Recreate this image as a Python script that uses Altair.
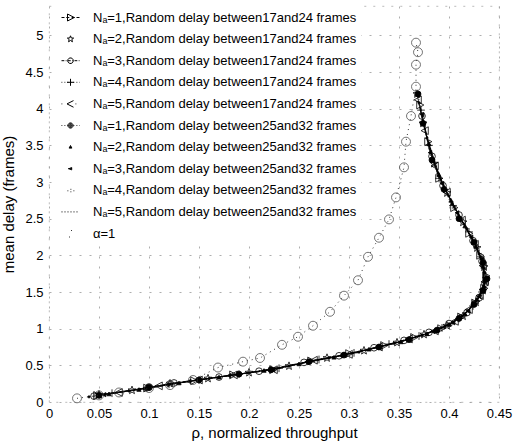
import math
import altair as alt
import pandas as pd

# ---------------- data ----------------
names = [
    "Nₐ=1,Random delay between17and24 frames",
    "Nₐ=2,Random delay between17and24 frames",
    "Nₐ=3,Random delay between17and24 frames",
    "Nₐ=4,Random delay between17and24 frames",
    "Nₐ=5,Random delay between17and24 frames",
    "Nₐ=1,Random delay between25and32 frames",
    "Nₐ=2,Random delay between25and32 frames",
    "Nₐ=3,Random delay between25and32 frames",
    "Nₐ=4,Random delay between25and32 frames",
    "Nₐ=5,Random delay between25and32 frames",
]
alpha_name = "α=1"

x1 = [0.048, 0.098, 0.145, 0.184, 0.224, 0.262, 0.30, 0.335, 0.365, 0.392, 0.412, 0.426, 0.435, 0.437, 0.431, 0.42, 0.405, 0.39, 0.379, 0.371]
y1 = [0.09, 0.19, 0.29, 0.37, 0.44, 0.56, 0.66, 0.77, 0.88, 1.00, 1.16, 1.35, 1.55, 1.72, 2.00, 2.30, 2.65, 3.05, 3.55, 4.05]
x2 = [0.05, 0.083, 0.121, 0.159, 0.20, 0.24, 0.278, 0.315, 0.348, 0.375, 0.398, 0.414, 0.427, 0.434, 0.435, 0.428, 0.414, 0.398, 0.385, 0.374, 0.368]
y2 = [0.10, 0.16, 0.25, 0.32, 0.40, 0.49, 0.60, 0.70, 0.81, 0.92, 1.04, 1.17, 1.36, 1.52, 1.84, 2.10, 2.45, 2.85, 3.25, 3.80, 4.20]
x3 = [0.045, 0.10, 0.125, 0.17, 0.21, 0.255, 0.29, 0.325, 0.355, 0.38, 0.40, 0.418, 0.43, 0.436, 0.433, 0.424, 0.41, 0.394, 0.383, 0.373]
y3 = [0.08, 0.20, 0.26, 0.34, 0.42, 0.54, 0.63, 0.74, 0.84, 0.95, 1.07, 1.22, 1.42, 1.62, 1.92, 2.20, 2.55, 2.95, 3.35, 3.90]
x4 = [0.063, 0.098, 0.12, 0.15, 0.19, 0.23, 0.27, 0.305, 0.34, 0.37, 0.393, 0.41, 0.424, 0.433, 0.437, 0.432, 0.42, 0.404, 0.39, 0.38, 0.372]
y4 = [0.12, 0.19, 0.24, 0.30, 0.38, 0.46, 0.58, 0.67, 0.79, 0.90, 1.01, 1.14, 1.31, 1.50, 1.70, 1.98, 2.32, 2.68, 3.05, 3.50, 3.98]
x5 = [0.07, 0.11, 0.15, 0.185, 0.225, 0.265, 0.30, 0.33, 0.36, 0.386, 0.406, 0.42, 0.431, 0.436, 0.434, 0.426, 0.413, 0.398, 0.386, 0.376, 0.369]
y5 = [0.13, 0.22, 0.30, 0.37, 0.44, 0.57, 0.65, 0.75, 0.86, 0.97, 1.10, 1.26, 1.45, 1.64, 1.86, 2.15, 2.48, 2.86, 3.22, 3.70, 4.12]
x6 = [0.05, 0.10, 0.15, 0.19, 0.222, 0.26, 0.295, 0.33, 0.36, 0.388, 0.41, 0.425, 0.434, 0.438, 0.434, 0.425, 0.41, 0.395, 0.383, 0.374, 0.369]
y6 = [0.09, 0.20, 0.30, 0.38, 0.44, 0.55, 0.64, 0.75, 0.85, 0.98, 1.14, 1.33, 1.52, 1.68, 1.90, 2.18, 2.50, 2.90, 3.30, 3.80, 4.20]
x7 = [0.06, 0.09, 0.13, 0.17, 0.215, 0.25, 0.285, 0.32, 0.352, 0.378, 0.40, 0.416, 0.428, 0.435, 0.434, 0.427, 0.416, 0.402, 0.39, 0.38]
y7 = [0.11, 0.17, 0.26, 0.34, 0.43, 0.52, 0.61, 0.72, 0.82, 0.93, 1.06, 1.20, 1.40, 1.58, 1.85, 2.12, 2.40, 2.75, 3.10, 3.52]
x8 = [0.055, 0.095, 0.14, 0.18, 0.224, 0.258, 0.292, 0.328, 0.358, 0.384, 0.404, 0.419, 0.43, 0.436, 0.433, 0.422, 0.408, 0.393, 0.381, 0.373]
y8 = [0.10, 0.18, 0.28, 0.36, 0.44, 0.55, 0.63, 0.74, 0.85, 0.96, 1.08, 1.24, 1.44, 1.64, 1.95, 2.25, 2.58, 2.98, 3.40, 3.92]
x9 = [0.04, 0.08, 0.12, 0.16, 0.20, 0.24, 0.28, 0.31, 0.345, 0.373, 0.396, 0.413, 0.426, 0.434, 0.436, 0.43, 0.418, 0.403, 0.389, 0.378, 0.37]
y9 = [0.07, 0.15, 0.24, 0.32, 0.40, 0.49, 0.60, 0.68, 0.80, 0.91, 1.03, 1.17, 1.34, 1.52, 1.76, 2.02, 2.36, 2.70, 3.12, 3.60, 4.08]
x10 = [0.05, 0.09, 0.13, 0.175, 0.22, 0.26, 0.295, 0.33, 0.362, 0.386, 0.406, 0.42, 0.43, 0.436, 0.435, 0.428, 0.415, 0.40, 0.387, 0.377, 0.37]
y10 = [0.09, 0.18, 0.26, 0.35, 0.43, 0.55, 0.64, 0.75, 0.87, 0.97, 1.10, 1.25, 1.43, 1.62, 1.83, 2.08, 2.42, 2.80, 3.20, 3.68, 4.10]

xa = [0.028, 0.05, 0.07, 0.10, 0.121, 0.144, 0.169, 0.194, 0.211, 0.233, 0.249, 0.264, 0.281, 0.295, 0.309, 0.319, 0.33, 0.34, 0.347, 0.355, 0.357, 0.362, 0.367, 0.367, 0.369, 0.367]
ya = [0.05, 0.09, 0.13, 0.19, 0.23, 0.30, 0.47, 0.55, 0.60, 0.78, 0.89, 1.04, 1.23, 1.45, 1.66, 1.98, 2.24, 2.49, 2.79, 3.20, 3.55, 3.90, 4.30, 4.60, 4.77, 4.90]

x_ticks = [0, 0.05, 0.1, 0.15, 0.2, 0.25, 0.3, 0.35, 0.4, 0.45]
y_ticks = [0, 0.5, 1, 1.5, 2, 2.5, 3, 3.5, 4, 4.5, 5]

series_x = [x1, x2, x3, x4, x5, x6, x7, x8, x9, x10]
series_y = [y1, y2, y3, y4, y5, y6, y7, y8, y9, y10]

# ---------------- shapes ----------------
def poly(pts):
    return "M" + "L".join(f"{a:.3f},{b:.3f}" for a, b in pts) + "Z"

def circ(r, cx=0.0, cy=0.0, n=14):
    return poly([(cx + r * math.cos(2 * math.pi * k / n), cy + r * math.sin(2 * math.pi * k / n)) for k in range(n)])

def star(r_out, r_in):
    pts = []
    for k in range(10):
        ang = -math.pi / 2 + k * math.pi / 5
        r = r_out if k % 2 == 0 else r_in
        pts.append((r * math.cos(ang), r * math.sin(ang)))
    return poly(pts)

def segs(pairs):
    return "".join(f"M{a:.2f},0H{b:.2f}" for a, b in pairs)

DASHED = [(-0.9, -0.6), (-0.42, -0.12), (0.12, 0.42), (0.6, 0.9)]
DASHDOT = [(-0.9, -0.62), (-0.48, -0.4), (-0.26, 0.02), (0.18, 0.26), (0.4, 0.68), (0.82, 0.9)]
DOTTED = [(-0.9, -0.82), (-0.6, -0.52), (-0.3, -0.22), (0.0, 0.08), (0.3, 0.38), (0.6, 0.68), (0.86, 0.9)]

# plot markers: (shape, size, filled)
plot_markers = [
    ("M-0.85,-1L1,0L-0.85,1Z", 60, False),
    (star(1, 0.42), 70, False),
    ("circle", 45, False),
    ("M-1,0H1M0,-1V1", 60, False),
    ("M0.85,-1L-1,0L0.85,1Z", 60, False),
    ("circle", 35, True),
    ("triangle-up", 18, True),
    ("triangle-left", 18, True),
    ("circle", 5, True),
    (None, 0, True),
]
line_dashes = [[4, 3], None, [5, 2, 1, 2], [1, 3], [1, 2], [1, 2], None, [6, 2], [1, 3], [1, 3]]

# legend symbols (line + marker, unit = 10 px)
legend_paths = [
    segs(DASHED) + "M-0.3,-0.35L0.38,0L-0.3,0.35Z",
    star(0.33, 0.14),
    segs(DASHDOT) + circ(0.28),
    segs(DOTTED) + "M-0.35,0H0.35M0,-0.35V0.35",
    segs([(-0.9, -0.82), (0.5, 0.58)]) + "M0.3,-0.33L-0.35,0L0.3,0.33",
    segs(DOTTED) + circ(0.26) + circ(0.17) + circ(0.08),
    "M0,-0.16L0.14,0.1L-0.14,0.1Z" + "M0,-0.06L0.05,0.04L-0.05,0.04Z",
    "M0.12,-0.12L-0.16,0L0.12,0.12Z" + "M-0.25,0H0.15",
    "M-0.3,0.05H-0.22M0.0,-0.1H0.08M0.0,0.15H0.08M0.3,0.05H0.38",
    segs([(-0.9, -0.8), (-0.6, -0.5), (-0.3, -0.2), (0.0, 0.1), (0.3, 0.4), (0.6, 0.7)]),
    "M0.05,-0.3H0.13M-0.15,0.35H-0.07",
]
legend_names = names + [alpha_name]

# ---------------- chart ----------------
X = alt.X("x:Q", scale=alt.Scale(domain=[0, 0.45], nice=False, zero=False),
          axis=alt.Axis(values=x_ticks, format="~g", title="ρ, normalized throughput",
                        labelPadding=5, titlePadding=5, labelFlush=False))
Y = alt.Y("y:Q", scale=alt.Scale(domain=[0, 5.4], nice=False),
          axis=alt.Axis(values=y_ticks, format="~g", title="mean delay (frames)",
                        labelPadding=6, titlePadding=8, labelFlush=False))

layers = []
for i in range(10):
    df = pd.DataFrame({"x": series_x[i], "y": series_y[i], "i": list(range(len(series_x[i])))})
    lkw = dict(stroke="black", strokeWidth=0.8)
    if line_dashes[i] is not None:
        lkw["strokeDash"] = line_dashes[i]
    layers.append(alt.Chart(df).mark_line(**lkw).encode(x=X, y=Y, order="i:Q"))
    shape, size, filled = plot_markers[i]
    if shape is not None:
        pkw = dict(shape=shape, size=size, filled=filled, stroke="black", strokeWidth=0.8, opacity=1)
        if filled:
            pkw["fill"] = "black"
        layers.append(alt.Chart(df).mark_point(**pkw).encode(x=X, y=Y))

dfa = pd.DataFrame({"x": xa, "y": ya, "i": list(range(len(xa)))})
layers.append(alt.Chart(dfa).mark_line(stroke="#222", strokeWidth=0.9, strokeDash=[1, 4]).encode(x=X, y=Y, order="i:Q"))
layers.append(alt.Chart(dfa).mark_point(shape="circle", size=80, filled=False, stroke="#333",
                                         strokeWidth=0.8, opacity=0.85).encode(x=X, y=Y))

# legend layer (invisible marks, supplies the legend)
dfl = pd.DataFrame({"series": legend_names, "x": [0.2] * len(legend_names), "y": [1.0] * len(legend_names)})
layers.append(
    alt.Chart(dfl).mark_point(opacity=0, size=400, stroke="black", filled=False).encode(
        x=X, y=Y,
        shape=alt.Shape("series:N", scale=alt.Scale(domain=legend_names, range=legend_paths),
                        legend=alt.Legend(
                            orient="none", legendX=7, legendY=-3, title=None,
                            labelFont="Liberation Sans", labelFontSize=13, labelColor="black",
                            labelLimit=400, labelOffset=12,
                            symbolSize=400, symbolStrokeColor="black", symbolStrokeWidth=1,
                            symbolFillColor="transparent", symbolOpacity=1,
                            rowPadding=3.6, padding=4, fillColor="white",
                        )),
    )
)

chart = alt.layer(*layers).properties(
    width=450, height=396,
    autosize=alt.AutoSizeParams(type="none"),
    padding={"left": 49, "top": 6, "right": 18, "bottom": 42},
).configure_view(
    stroke="#aaa", strokeDash=[2, 7], strokeWidth=0.8
).configure_axis(
    grid=True, gridColor="#999", gridDash=[2, 8], gridWidth=0.8,
    domain=False, ticks=False,
    labelFont="Liberation Sans", labelFontSize=13, labelColor="black",
    titleFont="Liberation Sans", titleFontSize=15, titleFontWeight="normal", titleColor="black",
)

chart.save("out.html", embed_options={"renderer": "svg", "actions": False})
